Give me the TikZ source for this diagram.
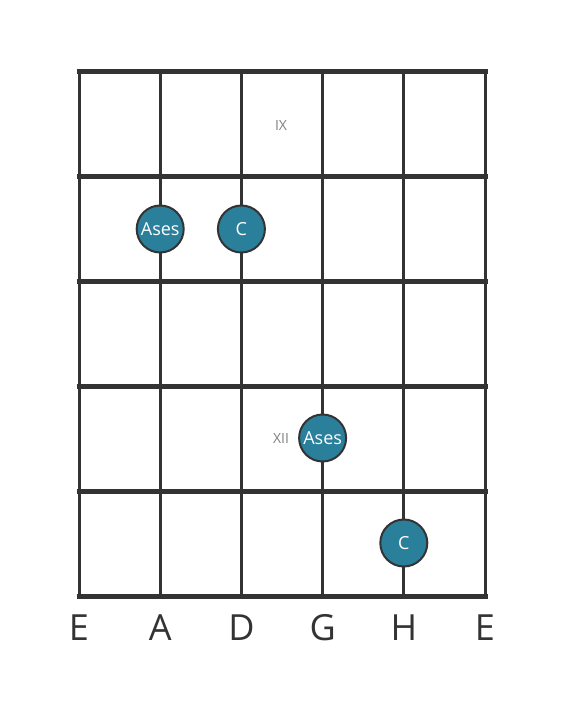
\documentclass[tikz,border=0pt]{standalone}
\usepackage{fontspec}
\setmainfont{Open Sans}
\definecolor{gridc}{HTML}{333333}
\definecolor{dotc}{HTML}{2A7F9B}
\definecolor{numc}{HTML}{808080}
\begin{document}
\begin{tikzpicture}[x=1pt,y=-1pt,
  fretline/.style={draw=gridc,line width=5pt},
  stringline/.style={draw=gridc,line width=3pt},
  dot/.style={circle,fill=dotc,draw=gridc,line width=2pt,minimum size=47pt,inner sep=0pt,text=white,font=\fontsize{18}{18}\selectfont},
  fretnum/.style={text=numc,font=\fontsize{14}{14}\selectfont},
  strname/.style={text=gridc,font=\fontsize{36}{36}\selectfont}]
\useasboundingbox (0,0) rectangle (566,711);
\foreach \i/\x in {0/79,1/160.2,2/241.4,3/322.6,4/403.8,5/485}{
  \draw[stringline] (\x,72) -- (\x,596);
}
\foreach \y in {72,176.8,281.6,386.4,491.2,596}{
  \draw[fretline] (76.5,\y) -- (487.5,\y);
}
\node[fretnum] (n9) at (281,126) {IX};
\node[fretnum] (n12) at (281,438) {XII};
\node[dot] (d1) at (160.2,229) {Ases};
\node[dot] (d2) at (241.4,229) {C};
\node[dot] (d3) at (322.6,438) {Ases};
\node[dot] (d4) at (403.8,543) {C};
\node[strname] (s1) at (79,628) {E};
\node[strname] (s2) at (160.2,628) {A};
\node[strname] (s3) at (241.4,628) {D};
\node[strname] (s4) at (322.6,628) {G};
\node[strname] (s5) at (403.8,628) {H};
\node[strname] (s6) at (485,628) {E};
\end{tikzpicture}
\end{document}
